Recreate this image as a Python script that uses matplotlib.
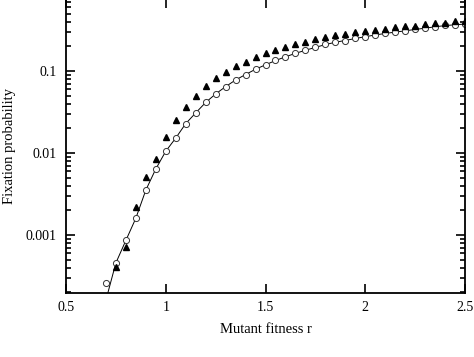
import matplotlib
matplotlib.use("Agg")
import matplotlib.pyplot as plt
from matplotlib.ticker import LogLocator, FixedLocator, FuncFormatter, NullFormatter

# mutant fitness values
r_sim = [0.70, 0.75, 0.80, 0.85, 0.90, 0.95, 1.00, 1.05, 1.10, 1.15,
         1.20, 1.25, 1.30, 1.35, 1.40, 1.45, 1.50, 1.55, 1.60, 1.65,
         1.70, 1.75, 1.80, 1.85, 1.90, 1.95, 2.00, 2.05, 2.10, 2.15,
         2.20, 2.25, 2.30, 2.35, 2.40, 2.45, 2.50]

# open circles
p_circle = [2.60e-4, 4.56e-4, 8.57e-4, 1.60e-3, 3.52e-3, 6.38e-3, 0.0105, 0.0152, 0.0228, 0.0308,
            0.0413, 0.0525, 0.0644, 0.0777, 0.0906, 0.106, 0.118, 0.135, 0.149, 0.164,
            0.180, 0.194, 0.213, 0.226, 0.234, 0.251, 0.262, 0.277, 0.288, 0.299,
            0.308, 0.323, 0.334, 0.347, 0.361, 0.367, 0.374]

# filled triangles (start at r = 0.75)
r_tri = r_sim[1:]
p_tri = [4.04e-4, 7.08e-4, 2.21e-3, 5.10e-3, 8.45e-3, 0.0157, 0.0252, 0.0367, 0.0500,
         0.0656, 0.0815, 0.0973, 0.115, 0.130, 0.149, 0.167, 0.180, 0.198, 0.215,
         0.226, 0.244, 0.258, 0.275, 0.280, 0.297, 0.310, 0.316, 0.325, 0.341,
         0.354, 0.357, 0.371, 0.382, 0.388, 0.404, 0.407]

# theory curve
p_theory = [1.60e-4, 4.56e-4, 8.57e-4, 1.60e-3, 3.52e-3, 6.38e-3, 0.0105, 0.0152, 0.0228, 0.0308,
            0.0413, 0.0525, 0.0644, 0.0777, 0.0906, 0.105, 0.119, 0.134, 0.149, 0.164,
            0.179, 0.194, 0.210, 0.224, 0.236, 0.249, 0.262, 0.275, 0.287, 0.298,
            0.309, 0.321, 0.333, 0.346, 0.358, 0.366, 0.374]

xticks = [0.5, 1, 1.5, 2, 2.5]
xtick_labels = ["0.5", "1", "1.5", "2", "2.5"]

plt.rcParams['font.family'] = ['Liberation Serif', 'DejaVu Serif']
plt.rcParams['font.size'] = 10

fig = plt.figure(figsize=(4.74, 3.57), dpi=100)
ax = fig.add_axes([66/474, 64/357, 399/474, 294.5/357])

ax.plot(r_sim, p_theory, color='black', lw=0.7, zorder=1)
ax.plot(r_sim, p_circle, 'o', ms=4.4, mfc='white', mec='#333333', mew=0.7, zorder=2)
ax.plot(r_tri, p_tri, '^', ms=4.8, color='black', zorder=3)

ax.set_yscale('log')
ax.set_xlim(0.5, 2.5)
ax.set_ylim(1.96e-4, 0.766)

ax.xaxis.set_major_locator(FixedLocator(xticks))
ax.set_xticklabels(xtick_labels)
ax.yaxis.set_major_locator(LogLocator(base=10, numticks=10))
ax.yaxis.set_minor_locator(LogLocator(base=10, subs=range(2, 10), numticks=20))
ax.yaxis.set_major_formatter(FuncFormatter(lambda v, p: "%g" % v))
ax.yaxis.set_minor_formatter(NullFormatter())

ax.tick_params(which='both', direction='in', top=True, right=True, width=1.2)
ax.tick_params(which='major', length=6.5)
ax.tick_params(which='minor', length=3.6)
ax.tick_params(axis='y', pad=6.5)
ax.tick_params(axis='x', pad=5.5)
for s in ax.spines.values():
    s.set_linewidth(1.3)

ax.set_xlabel("Mutant fitness r", fontsize=10.5, labelpad=7)
ax.set_ylabel("Fixation probability", fontsize=10.5)
ax.yaxis.set_label_coords(-50/399, 0.5)

fig.savefig("out.png", dpi=100)
